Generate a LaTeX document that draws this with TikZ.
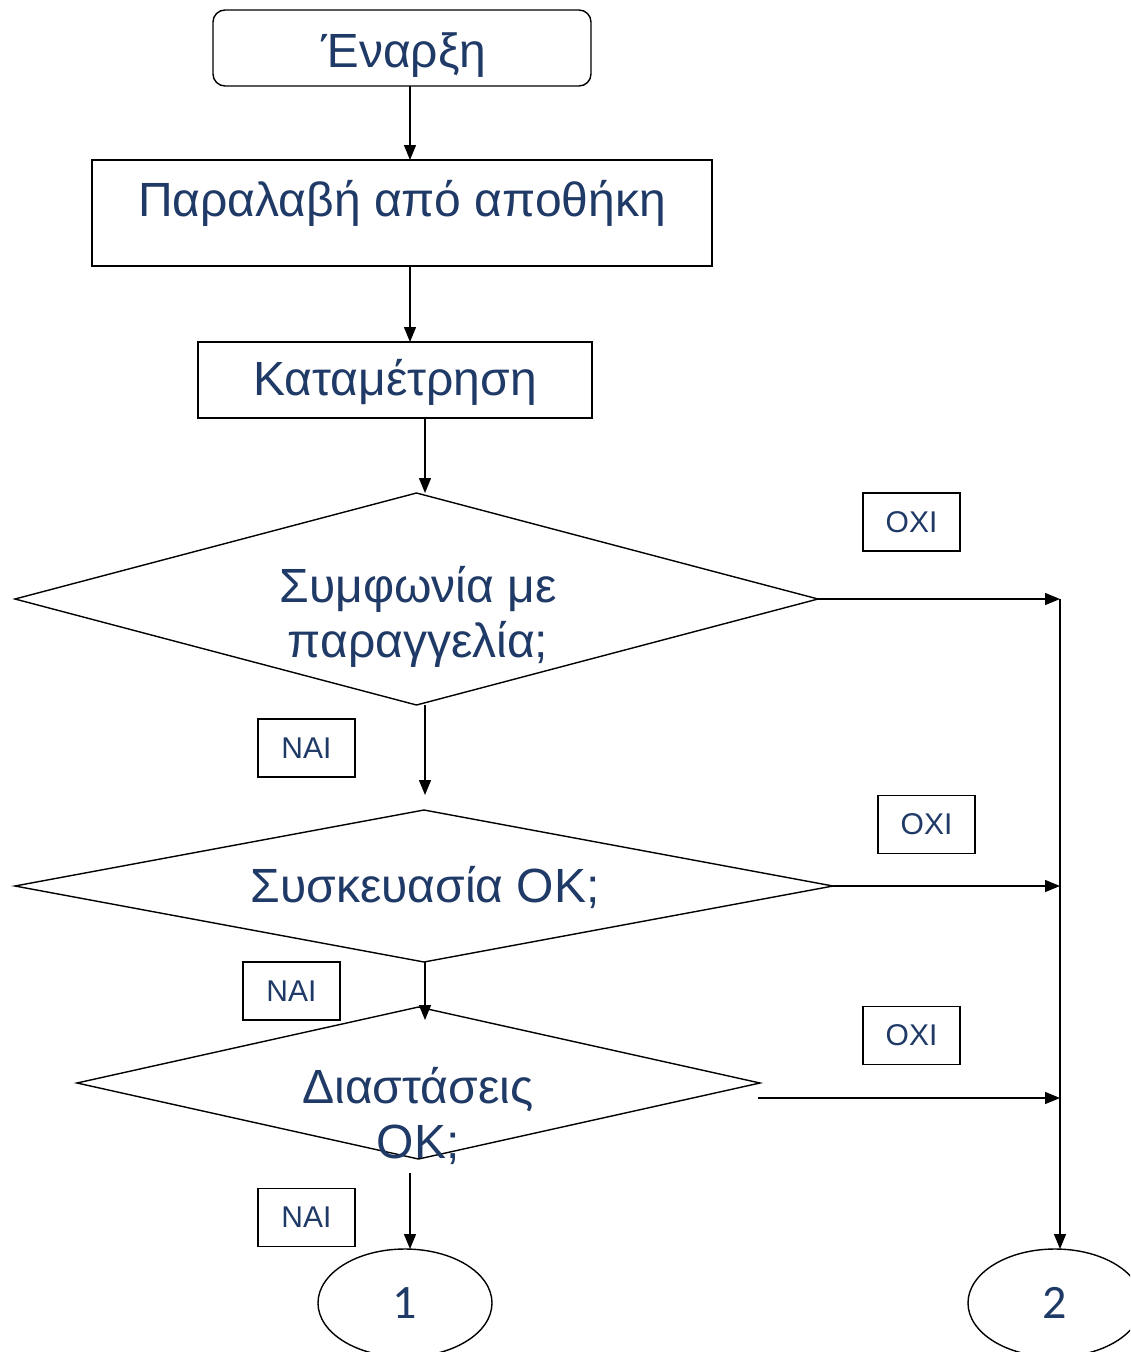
\documentclass[tikz,border=0pt]{standalone}
\usepackage{fontspec}
\setmainfont{Liberation Sans}
\newfontfamily\digitfont{Carlito}
\usetikzlibrary{shapes.geometric,arrows.meta}
\definecolor{txtblue}{HTML}{1F3A66}
\begin{document}
\begin{tikzpicture}[x=1pt,y=-1pt,
  every node/.style={text=txtblue, inner sep=0pt, outer sep=0pt},
  line/.style={line width=1.4pt, black},
  arr/.style={line, -{Triangle[length=15pt,width=12pt]}},
  stepbox/.style={draw=black, line width=1.4pt},
  tag/.style={draw=black, line width=1.4pt, minimum width=97pt, minimum height=58pt, font=\fontsize{30}{36}\selectfont},
  decision/.style={draw=black, line width=1.4pt, diamond},
  bigtxt/.style={font=\fontsize{48}{55}\selectfont, align=center},
  connector/.style={draw=black, line width=1.4pt, ellipse, minimum width=174pt, minimum height=108pt, font=\digitfont\fontsize{48}{55}\selectfont}
]
\clip (0,0) rectangle (1130,1352);
\fill[white] (0,0) rectangle (1130,1352);

% process steps
\node[stepbox, rounded corners=12pt, minimum width=378pt, minimum height=76pt] (start) at (402,48) {};
\node[bigtxt] (startt) at (404,55) {Έναρξη};
\node[stepbox, minimum width=620pt, minimum height=106pt] (recv) at (402,213) {};
\node[bigtxt] (recvt) at (402,203) {Παραλαβή από αποθήκη};
\node[stepbox, minimum width=394pt, minimum height=76pt] (count) at (395,380) {};
\node[bigtxt] (countt) at (395,382) {Καταμέτρηση};

% decisions
\node[decision, minimum width=803pt, minimum height=212pt] (d1) at (416.5,599) {};
\node[bigtxt] (d1t) at (418,617) {Συμφωνία με\\παραγγελία;};
\node[decision, minimum width=818pt, minimum height=152pt] (d2) at (424,886) {};
\node[bigtxt] (d2t) at (425,887) {Συσκευασία OK;};
\node[decision, minimum width=683pt, minimum height=152pt] (d3) at (418.5,1083) {};
\node[bigtxt] (d3t) at (418,1116) {Διαστάσεις\\OK;};

% answer tags
\node[tag] (no1) at (911.5,522) {OXI};
\node[tag] (no2) at (926.5,824.5) {OXI};
\node[tag] (no3) at (911.5,1035.5) {OXI};
\node[tag] (yes1) at (306.5,748) {NAI};
\node[tag] (yes2) at (291.5,991) {NAI};
\node[tag] (yes3) at (306.5,1217.5) {NAI};

% off-page connectors
\node[connector] (e1) at (405,1303) {1};
\node[connector] (e2) at (1055,1303) {2};

% junctions on the collecting line
\coordinate (j1) at (1060,599);
\coordinate (j2) at (1060,886);
\coordinate (j3) at (1060,1098);

% main flow
\draw[arr] ([xshift=8pt]start.south) -- ([xshift=8pt]recv.north);
\draw[arr] ([xshift=8pt]recv.south) -- ([xshift=15pt]count.north);
\draw[arr] ([xshift=30pt]count.south) -- ([xshift=8.5pt]d1.north);
\draw[arr] ([xshift=8.5pt]d1.south) -- ([xshift=1pt,yshift=15pt]d2.north);
\draw[arr] ([xshift=1pt]d2.south) -- ([xshift=6.5pt,yshift=-13pt]d3.north);
\draw[arr] ([xshift=-8.5pt,yshift=-14pt]d3.south) -- ([xshift=5pt]e1.north);

% "no" branches
\draw[arr] (d1.east) -- (j1);
\draw[arr] (d2.east) -- (j2);
\draw[arr] ([xshift=-2pt,yshift=-15pt]d3.east) -- (j3);
\draw[arr] (j1) -- ([xshift=5pt]e2.north);
\end{tikzpicture}
\end{document}
